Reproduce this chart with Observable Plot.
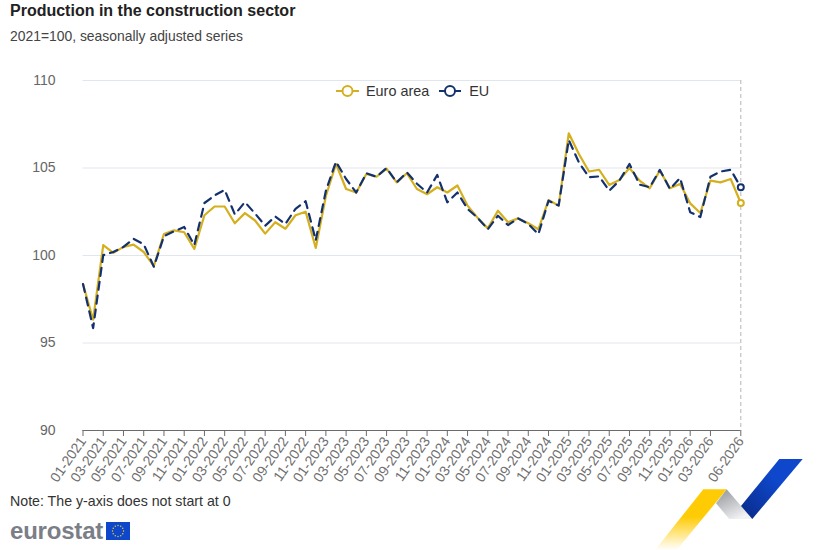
<!DOCTYPE html>
<html>
<head>
<meta charset="utf-8">
<script src="https://cdn.jsdelivr.net/npm/d3@7"></script>
<script src="https://cdn.jsdelivr.net/npm/@observablehq/plot@0.6"></script>
<style>
html,body{margin:0;padding:0;background:#fff;font-family:"Liberation Sans",Arial,sans-serif;}
#page{position:relative;width:823px;height:550px;overflow:hidden;}
#title{position:absolute;left:10px;top:2px;font-size:16px;font-weight:700;color:#222;}
#subtitle{position:absolute;left:10px;top:28px;font-size:13.9px;color:#444;}
#chart{position:absolute;left:0;top:50px;}
#chart svg{display:block;}
#legend{position:absolute;left:336px;top:81px;height:20px;display:flex;align-items:center;font-size:14.4px;color:#333;}
#legend svg{display:block;}
#note{position:absolute;left:10px;top:493px;font-size:14.2px;color:#333;}
#brand{position:absolute;left:10px;top:517px;font-size:24px;font-weight:700;color:#7b7e87;letter-spacing:-0.2px;}
#flag{position:absolute;left:106px;top:522px;}
#ribbon{position:absolute;left:0;top:0;pointer-events:none;}
</style>
</head>
<body>
<div id="page">
  <div id="title">Production in the construction sector</div>
  <div id="subtitle">2021=100, seasonally adjusted series</div>
  <div id="chart"></div>
  <div id="legend"></div>
  <div id="note">Note: The y-axis does not start at 0</div>
  <div id="brand">eurostat</div>
  <svg id="flag" width="24" height="18"></svg>
  <svg id="ribbon" width="823" height="550">
    <defs>
      <linearGradient id="gy" x1="0" y1="0" x2="0" y2="1"><stop offset="0.45" stop-color="#ffcb05"/><stop offset="1" stop-color="#ffffff"/></linearGradient>
      <linearGradient id="gg" x1="0" y1="0" x2="0.6" y2="1"><stop offset="0" stop-color="#8f9196"/><stop offset="1" stop-color="#f1f2f4"/></linearGradient>
      <linearGradient id="gb" x1="1" y1="0" x2="0" y2="1"><stop offset="0.4" stop-color="#0e47cb"/><stop offset="1" stop-color="#0a2a86"/></linearGradient>
    </defs>
    <polygon points="703.3,489.3 726.7,489.3 676.7,550 655,550" fill="url(#gy)"/>
    <polygon points="726.7,489.3 752.3,519 729.3,519 716,503.3" fill="url(#gg)"/>
    <polygon points="779.3,459 802.7,459 752.3,519 741,506" fill="url(#gb)"/>
  </svg>
</div>
<script>
const months = [
"01-2021","02-2021","03-2021","04-2021","05-2021","06-2021","07-2021","08-2021","09-2021","10-2021","11-2021","12-2021",
"01-2022","02-2022","03-2022","04-2022","05-2022","06-2022","07-2022","08-2022","09-2022","10-2022","11-2022","12-2022",
"01-2023","02-2023","03-2023","04-2023","05-2023","06-2023","07-2023","08-2023","09-2023","10-2023","11-2023","12-2023",
"01-2024","02-2024","03-2024","04-2024","05-2024","06-2024","07-2024","08-2024","09-2024","10-2024","11-2024","12-2024",
"01-2025","02-2025","03-2025","04-2025","05-2025","06-2025","07-2025","08-2025","09-2025","10-2025","11-2025","12-2025",
"01-2026","02-2026","03-2026","04-2026","05-2026","06-2026"];
const tickLabels = [
"01-2021","03-2021","05-2021","07-2021","09-2021","11-2021",
"01-2022","03-2022","05-2022","07-2022","09-2022","11-2022",
"01-2023","03-2023","05-2023","07-2023","09-2023","11-2023",
"01-2024","03-2024","05-2024","07-2024","09-2024","11-2024",
"01-2025","03-2025","05-2025","07-2025","09-2025","11-2025",
"01-2026","03-2026","06-2026"];
const euroArea = [
98.37,96.33,100.59,100.15,100.49,100.62,100.2,99.4,101.23,101.44,101.33,100.38,
102.3,102.8,102.8,101.84,102.42,102.0,101.25,101.9,101.53,102.3,102.5,100.43,
103.4,105.23,103.8,103.6,104.66,104.5,104.96,104.18,104.7,103.8,103.5,103.9,
103.6,104.0,102.85,102.15,101.55,102.56,101.9,102.12,101.84,101.5,103.17,102.85,
106.98,105.8,104.8,104.9,104.03,104.31,105.0,104.28,103.84,104.85,103.84,104.09,
102.98,102.43,104.28,104.18,104.37,103.0];
const eu = [
98.37,95.85,100.02,100.2,100.49,100.95,100.64,99.36,101.1,101.38,101.63,100.6,
103.0,103.43,103.75,102.35,103.05,102.4,101.7,102.23,101.8,102.67,103.1,100.87,
103.7,105.36,104.37,103.6,104.7,104.5,105.0,104.18,104.75,104.1,103.6,104.6,
103.04,103.6,102.66,102.15,101.5,102.27,101.74,102.12,101.8,101.22,103.13,102.85,
106.6,105.32,104.47,104.52,103.7,104.28,105.23,104.05,103.9,104.89,103.8,104.43,
102.47,102.2,104.5,104.8,104.9,103.9];
const yTicks = [90,95,100,105,110];
const euroColor = "#d4af1e", euColor = "#14316f";
const euroRows = months.map((m,i)=>({m,v:euroArea[i]}));
const euRows = months.map((m,i)=>({m,v:eu[i]}));
const lastMonth = months[months.length-1];

const plot = Plot.plot({
  width: 823, height: 440,
  marginLeft: 82.5, marginRight: 82.7, marginTop: 30, marginBottom: 60,
  style: {fontFamily: '"Liberation Sans",Arial,sans-serif', background: "transparent"},
  x: {type: "point", domain: months, padding: 0, round: false, label: null},
  y: {domain: [90,110], label: null},
  marks: [
    Plot.gridY(yTicks, {stroke:"#e1e5ec", strokeOpacity:1, strokeWidth:1}),
    Plot.axisY(yTicks, {tickSize:0, tickPadding:27.5, fontSize:14, color:"#666", label:null}),
    Plot.ruleX([lastMonth], {stroke:"#b5b5b5", strokeWidth:1, strokeDasharray:"4,3"}),
    Plot.ruleY([90], {stroke:"#6b6b6b", strokeWidth:1}),
    Plot.axisX({ticks:tickLabels, tickSize:6, tickRotate:-55, tickPadding:2, fontSize:14, stroke:"#6b6b6b", fill:"#707070", label:null}),
    Plot.lineY(euroRows, {x:"m", y:"v", stroke:euroColor, strokeWidth:2.2, curve:"linear"}),
    Plot.lineY(euRows, {x:"m", y:"v", stroke:euColor, strokeWidth:2.2, strokeDasharray:"8,6", curve:"linear"}),
    Plot.dot(euRows.slice(-1), {x:"m", y:"v", r:3, fill:"#fff", stroke:euColor, strokeWidth:2}),
    Plot.dot(euroRows.slice(-1), {x:"m", y:"v", r:3, fill:"#fff", stroke:euroColor, strokeWidth:2})
  ]
});
document.getElementById("chart").append(plot);

function swatch(color,w){
  return `<svg width="${w}" height="16"><line x1="0" x2="${w}" y1="8" y2="8" stroke="${color}" stroke-width="2"/><circle cx="${w/2}" cy="8" r="5" fill="#fff" stroke="${color}" stroke-width="2"/></svg>`;
}
document.getElementById("legend").innerHTML =
  swatch(euroColor,23)+`<span style="margin:0 10px 0 7px">Euro area</span>`+
  swatch(euColor,22)+`<span style="margin-left:8px">EU</span>`;

const flag = d3.select("#flag");
flag.append("rect").attr("width",24).attr("height",18).attr("fill","#0e47cb");
d3.range(12).forEach(i=>{
  const a = i/12*2*Math.PI;
  flag.append("circle").attr("cx",12+5.5*Math.cos(a)).attr("cy",9+5.5*Math.sin(a)).attr("r",0.7).attr("fill","#ffd617");
});
</script>
</body>
</html>
